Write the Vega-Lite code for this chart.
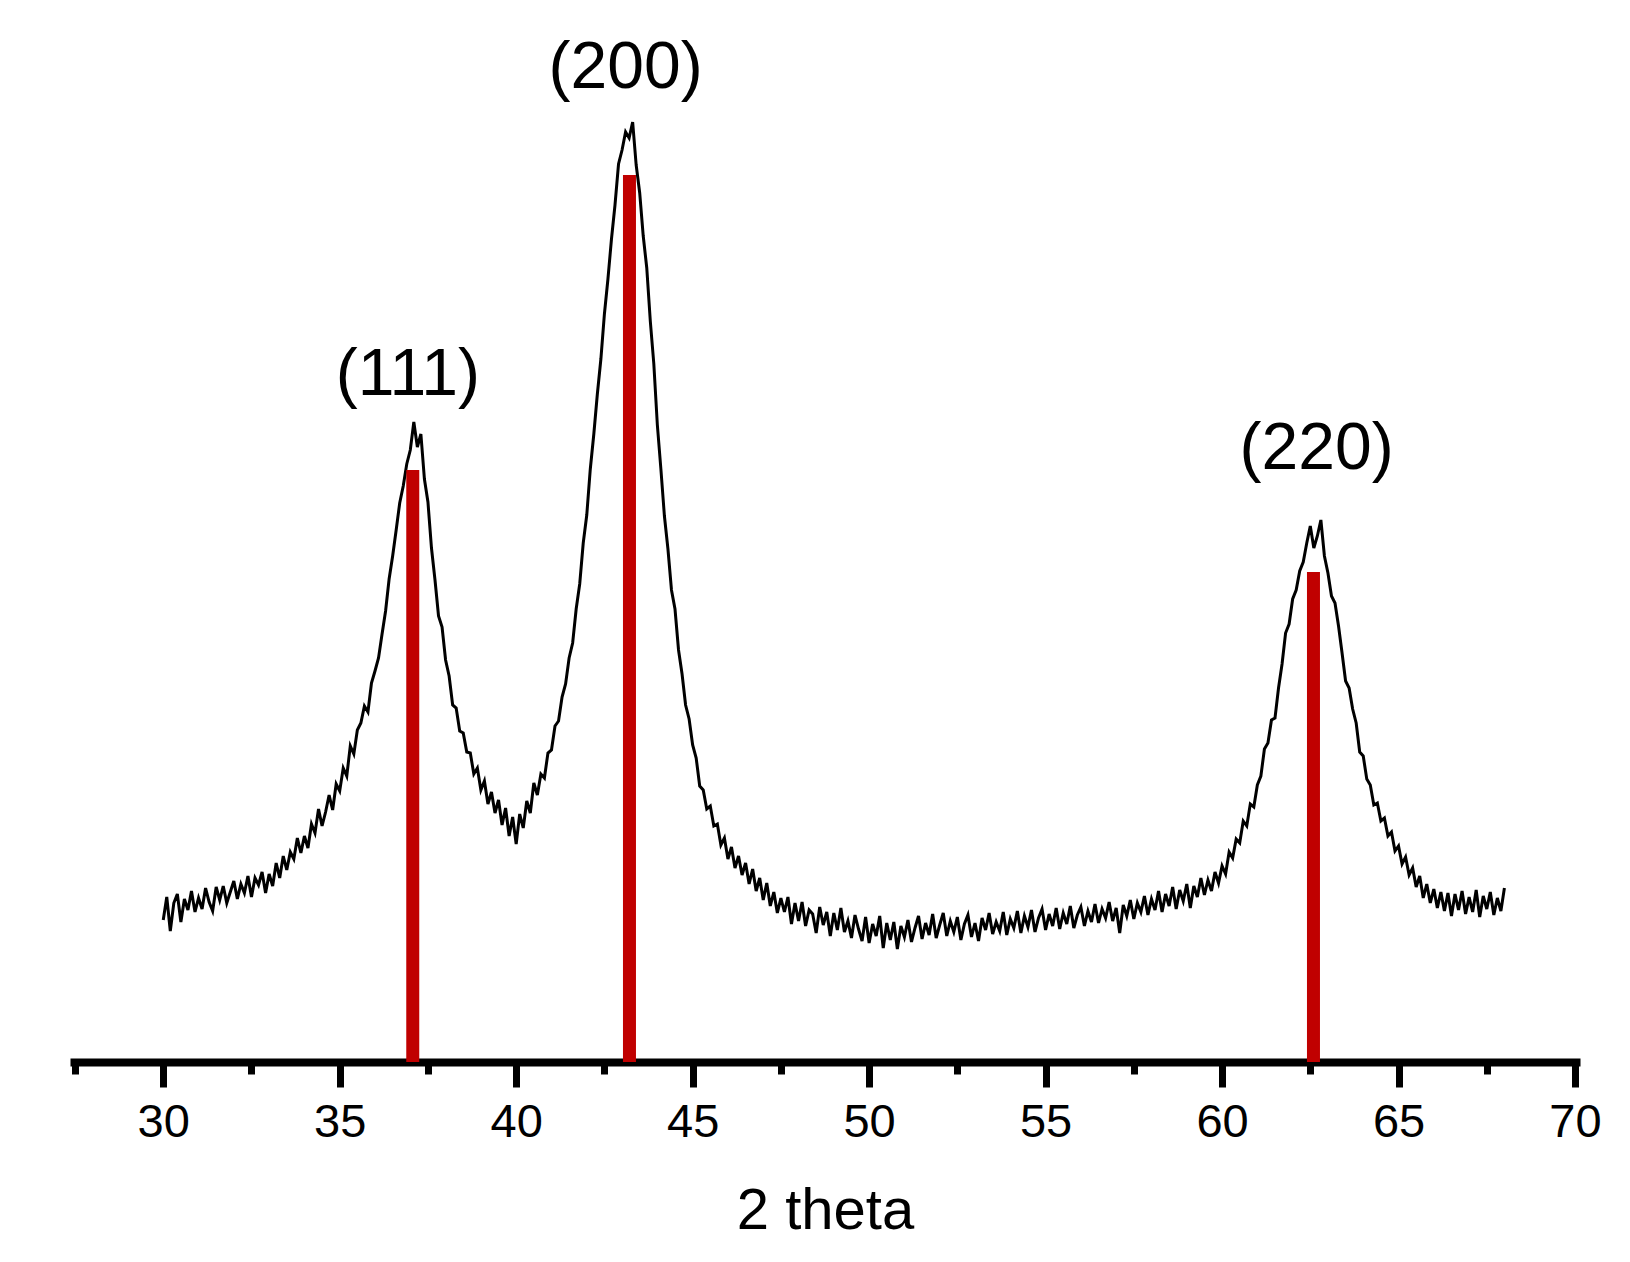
{
  "$schema": "https://vega.github.io/schema/vega-lite/v6.json",
  "width": 1510,
  "height": 1062,
  "autosize": "none",
  "padding": {"left": 70, "top": 0, "right": 50, "bottom": 200},
  "background": "white",
  "config": {
    "view": {"stroke": null},
    "font": "Liberation Sans"
  },
  "layer": [
    {
      "data": {
        "values": [
          {"two_theta": 30.0, "intensity": 14.2}, {"two_theta": 30.1, "intensity": 16.5}, {"two_theta": 30.2, "intensity": 13.1}, {"two_theta": 30.3, "intensity": 15.9},
          {"two_theta": 30.4, "intensity": 16.8}, {"two_theta": 30.5, "intensity": 14.0}, {"two_theta": 30.6, "intensity": 16.3}, {"two_theta": 30.7, "intensity": 15.2},
          {"two_theta": 30.8, "intensity": 17.1}, {"two_theta": 30.9, "intensity": 15.0}, {"two_theta": 31.0, "intensity": 16.4}, {"two_theta": 31.1, "intensity": 15.3},
          {"two_theta": 31.2, "intensity": 17.4}, {"two_theta": 31.3, "intensity": 16.0}, {"two_theta": 31.4, "intensity": 15.1}, {"two_theta": 31.5, "intensity": 17.5},
          {"two_theta": 31.6, "intensity": 16.2}, {"two_theta": 31.7, "intensity": 17.6}, {"two_theta": 31.8, "intensity": 15.9}, {"two_theta": 31.9, "intensity": 17.0},
          {"two_theta": 32.0, "intensity": 18.1}, {"two_theta": 32.1, "intensity": 16.3}, {"two_theta": 32.2, "intensity": 17.8}, {"two_theta": 32.3, "intensity": 16.9},
          {"two_theta": 32.4, "intensity": 18.6}, {"two_theta": 32.5, "intensity": 16.5}, {"two_theta": 32.6, "intensity": 18.4}, {"two_theta": 32.7, "intensity": 17.7},
          {"two_theta": 32.8, "intensity": 19.0}, {"two_theta": 32.9, "intensity": 16.9}, {"two_theta": 33.0, "intensity": 18.8}, {"two_theta": 33.1, "intensity": 17.6},
          {"two_theta": 33.2, "intensity": 19.9}, {"two_theta": 33.3, "intensity": 18.4}, {"two_theta": 33.4, "intensity": 20.6}, {"two_theta": 33.5, "intensity": 19.2},
          {"two_theta": 33.6, "intensity": 21.0}, {"two_theta": 33.7, "intensity": 20.3}, {"two_theta": 33.8, "intensity": 22.4}, {"two_theta": 33.9, "intensity": 20.9},
          {"two_theta": 34.0, "intensity": 22.6}, {"two_theta": 34.1, "intensity": 21.4}, {"two_theta": 34.2, "intensity": 23.8}, {"two_theta": 34.3, "intensity": 22.9},
          {"two_theta": 34.4, "intensity": 25.3}, {"two_theta": 34.5, "intensity": 23.6}, {"two_theta": 34.6, "intensity": 25.0}, {"two_theta": 34.7, "intensity": 26.7},
          {"two_theta": 34.8, "intensity": 25.2}, {"two_theta": 34.9, "intensity": 27.8}, {"two_theta": 35.0, "intensity": 27.1}, {"two_theta": 35.1, "intensity": 29.4},
          {"two_theta": 35.2, "intensity": 28.6}, {"two_theta": 35.3, "intensity": 31.6}, {"two_theta": 35.4, "intensity": 30.8}, {"two_theta": 35.5, "intensity": 33.2},
          {"two_theta": 35.6, "intensity": 33.9}, {"two_theta": 35.7, "intensity": 35.6}, {"two_theta": 35.8, "intensity": 35.0}, {"two_theta": 35.9, "intensity": 37.9},
          {"two_theta": 36.0, "intensity": 39.1}, {"two_theta": 36.1, "intensity": 40.4}, {"two_theta": 36.2, "intensity": 42.8}, {"two_theta": 36.3, "intensity": 45.1},
          {"two_theta": 36.4, "intensity": 48.3}, {"two_theta": 36.5, "intensity": 50.6}, {"two_theta": 36.6, "intensity": 53.2}, {"two_theta": 36.7, "intensity": 55.9},
          {"two_theta": 36.8, "intensity": 57.6}, {"two_theta": 36.9, "intensity": 59.8}, {"two_theta": 37.0, "intensity": 61.2}, {"two_theta": 37.1, "intensity": 64.0},
          {"two_theta": 37.2, "intensity": 61.5}, {"two_theta": 37.3, "intensity": 62.8}, {"two_theta": 37.4, "intensity": 58.3}, {"two_theta": 37.5, "intensity": 56.0},
          {"two_theta": 37.6, "intensity": 51.4}, {"two_theta": 37.7, "intensity": 48.2}, {"two_theta": 37.8, "intensity": 44.6}, {"two_theta": 37.9, "intensity": 43.5},
          {"two_theta": 38.0, "intensity": 40.2}, {"two_theta": 38.1, "intensity": 38.6}, {"two_theta": 38.2, "intensity": 35.7}, {"two_theta": 38.3, "intensity": 35.4},
          {"two_theta": 38.4, "intensity": 33.1}, {"two_theta": 38.5, "intensity": 32.9}, {"two_theta": 38.6, "intensity": 31.0}, {"two_theta": 38.7, "intensity": 30.9},
          {"two_theta": 38.8, "intensity": 28.8}, {"two_theta": 38.9, "intensity": 29.4}, {"two_theta": 39.0, "intensity": 27.2}, {"two_theta": 39.1, "intensity": 28.1},
          {"two_theta": 39.2, "intensity": 25.8}, {"two_theta": 39.3, "intensity": 27.0}, {"two_theta": 39.4, "intensity": 24.9}, {"two_theta": 39.5, "intensity": 26.2},
          {"two_theta": 39.6, "intensity": 23.7}, {"two_theta": 39.7, "intensity": 25.4}, {"two_theta": 39.8, "intensity": 22.6}, {"two_theta": 39.9, "intensity": 24.5},
          {"two_theta": 40.0, "intensity": 21.8}, {"two_theta": 40.1, "intensity": 24.8}, {"two_theta": 40.2, "intensity": 23.4}, {"two_theta": 40.3, "intensity": 26.1},
          {"two_theta": 40.4, "intensity": 24.9}, {"two_theta": 40.5, "intensity": 27.9}, {"two_theta": 40.6, "intensity": 26.7}, {"two_theta": 40.7, "intensity": 28.8},
          {"two_theta": 40.8, "intensity": 28.4}, {"two_theta": 40.9, "intensity": 30.9}, {"two_theta": 41.0, "intensity": 31.2}, {"two_theta": 41.1, "intensity": 33.6},
          {"two_theta": 41.2, "intensity": 34.1}, {"two_theta": 41.3, "intensity": 36.5}, {"two_theta": 41.4, "intensity": 37.8}, {"two_theta": 41.5, "intensity": 40.4},
          {"two_theta": 41.6, "intensity": 41.9}, {"two_theta": 41.7, "intensity": 45.3}, {"two_theta": 41.8, "intensity": 47.8}, {"two_theta": 41.9, "intensity": 51.9},
          {"two_theta": 42.0, "intensity": 54.7}, {"two_theta": 42.1, "intensity": 59.3}, {"two_theta": 42.2, "intensity": 62.8}, {"two_theta": 42.3, "intensity": 66.8},
          {"two_theta": 42.4, "intensity": 70.3}, {"two_theta": 42.5, "intensity": 74.8}, {"two_theta": 42.6, "intensity": 78.3}, {"two_theta": 42.7, "intensity": 82.3},
          {"two_theta": 42.8, "intensity": 85.7}, {"two_theta": 42.9, "intensity": 89.8}, {"two_theta": 43.0, "intensity": 91.2}, {"two_theta": 43.1, "intensity": 93.0},
          {"two_theta": 43.2, "intensity": 92.4}, {"two_theta": 43.3, "intensity": 94.0}, {"two_theta": 43.4, "intensity": 89.7}, {"two_theta": 43.5, "intensity": 86.9},
          {"two_theta": 43.6, "intensity": 82.6}, {"two_theta": 43.7, "intensity": 79.4}, {"two_theta": 43.8, "intensity": 74.1}, {"two_theta": 43.9, "intensity": 69.8},
          {"two_theta": 44.0, "intensity": 63.7}, {"two_theta": 44.1, "intensity": 59.3}, {"two_theta": 44.2, "intensity": 54.6}, {"two_theta": 44.3, "intensity": 51.3},
          {"two_theta": 44.4, "intensity": 47.2}, {"two_theta": 44.5, "intensity": 45.3}, {"two_theta": 44.6, "intensity": 41.2}, {"two_theta": 44.7, "intensity": 38.8},
          {"two_theta": 44.8, "intensity": 35.7}, {"two_theta": 44.9, "intensity": 34.3}, {"two_theta": 45.0, "intensity": 31.7}, {"two_theta": 45.1, "intensity": 30.4},
          {"two_theta": 45.2, "intensity": 27.6}, {"two_theta": 45.3, "intensity": 27.2}, {"two_theta": 45.4, "intensity": 25.3}, {"two_theta": 45.5, "intensity": 25.6},
          {"two_theta": 45.6, "intensity": 23.6}, {"two_theta": 45.7, "intensity": 23.8}, {"two_theta": 45.8, "intensity": 21.7}, {"two_theta": 45.9, "intensity": 22.4},
          {"two_theta": 46.0, "intensity": 20.3}, {"two_theta": 46.1, "intensity": 21.5}, {"two_theta": 46.2, "intensity": 19.4}, {"two_theta": 46.3, "intensity": 20.6},
          {"two_theta": 46.4, "intensity": 18.7}, {"two_theta": 46.5, "intensity": 19.9}, {"two_theta": 46.6, "intensity": 17.8}, {"two_theta": 46.7, "intensity": 19.3},
          {"two_theta": 46.8, "intensity": 17.1}, {"two_theta": 46.9, "intensity": 18.4}, {"two_theta": 47.0, "intensity": 16.2}, {"two_theta": 47.1, "intensity": 17.9},
          {"two_theta": 47.2, "intensity": 15.6}, {"two_theta": 47.3, "intensity": 17.0}, {"two_theta": 47.4, "intensity": 14.9}, {"two_theta": 47.5, "intensity": 16.4},
          {"two_theta": 47.6, "intensity": 15.0}, {"two_theta": 47.7, "intensity": 16.5}, {"two_theta": 47.8, "intensity": 13.8}, {"two_theta": 47.9, "intensity": 15.9},
          {"two_theta": 48.0, "intensity": 14.1}, {"two_theta": 48.1, "intensity": 16.0}, {"two_theta": 48.2, "intensity": 13.6}, {"two_theta": 48.3, "intensity": 15.2},
          {"two_theta": 48.4, "intensity": 14.8}, {"two_theta": 48.5, "intensity": 12.9}, {"two_theta": 48.6, "intensity": 15.5}, {"two_theta": 48.7, "intensity": 13.7},
          {"two_theta": 48.8, "intensity": 15.0}, {"two_theta": 48.9, "intensity": 12.6}, {"two_theta": 49.0, "intensity": 14.9}, {"two_theta": 49.1, "intensity": 13.2},
          {"two_theta": 49.2, "intensity": 15.4}, {"two_theta": 49.3, "intensity": 13.0}, {"two_theta": 49.4, "intensity": 14.1}, {"two_theta": 49.5, "intensity": 12.4},
          {"two_theta": 49.6, "intensity": 14.7}, {"two_theta": 49.7, "intensity": 13.3}, {"two_theta": 49.8, "intensity": 12.1}, {"two_theta": 49.9, "intensity": 14.5},
          {"two_theta": 50.0, "intensity": 11.9}, {"two_theta": 50.1, "intensity": 13.8}, {"two_theta": 50.2, "intensity": 12.6}, {"two_theta": 50.3, "intensity": 14.6},
          {"two_theta": 50.4, "intensity": 11.4}, {"two_theta": 50.5, "intensity": 13.9}, {"two_theta": 50.6, "intensity": 12.2}, {"two_theta": 50.7, "intensity": 14.0},
          {"two_theta": 50.8, "intensity": 11.3}, {"two_theta": 50.9, "intensity": 13.6}, {"two_theta": 51.0, "intensity": 12.5}, {"two_theta": 51.1, "intensity": 14.2},
          {"two_theta": 51.2, "intensity": 12.0}, {"two_theta": 51.3, "intensity": 13.4}, {"two_theta": 51.4, "intensity": 14.6}, {"two_theta": 51.5, "intensity": 12.3},
          {"two_theta": 51.6, "intensity": 13.9}, {"two_theta": 51.7, "intensity": 12.7}, {"two_theta": 51.8, "intensity": 14.8}, {"two_theta": 51.9, "intensity": 12.4},
          {"two_theta": 52.0, "intensity": 13.7}, {"two_theta": 52.1, "intensity": 14.9}, {"two_theta": 52.2, "intensity": 12.6}, {"two_theta": 52.3, "intensity": 14.1},
          {"two_theta": 52.4, "intensity": 13.0}, {"two_theta": 52.5, "intensity": 14.5}, {"two_theta": 52.6, "intensity": 12.2}, {"two_theta": 52.7, "intensity": 13.8},
          {"two_theta": 52.8, "intensity": 14.7}, {"two_theta": 52.9, "intensity": 12.5}, {"two_theta": 53.0, "intensity": 13.9}, {"two_theta": 53.1, "intensity": 12.1},
          {"two_theta": 53.2, "intensity": 14.4}, {"two_theta": 53.3, "intensity": 13.2}, {"two_theta": 53.4, "intensity": 14.9}, {"two_theta": 53.5, "intensity": 12.8},
          {"two_theta": 53.6, "intensity": 14.0}, {"two_theta": 53.7, "intensity": 13.1}, {"two_theta": 53.8, "intensity": 15.0}, {"two_theta": 53.9, "intensity": 12.7},
          {"two_theta": 54.0, "intensity": 14.3}, {"two_theta": 54.1, "intensity": 13.4}, {"two_theta": 54.2, "intensity": 15.1}, {"two_theta": 54.3, "intensity": 12.9},
          {"two_theta": 54.4, "intensity": 14.6}, {"two_theta": 54.5, "intensity": 13.5}, {"two_theta": 54.6, "intensity": 15.2}, {"two_theta": 54.7, "intensity": 13.0},
          {"two_theta": 54.8, "intensity": 14.4}, {"two_theta": 54.9, "intensity": 15.3}, {"two_theta": 55.0, "intensity": 13.2}, {"two_theta": 55.1, "intensity": 14.8},
          {"two_theta": 55.2, "intensity": 13.6}, {"two_theta": 55.3, "intensity": 15.4}, {"two_theta": 55.4, "intensity": 13.3}, {"two_theta": 55.5, "intensity": 14.9},
          {"two_theta": 55.6, "intensity": 13.8}, {"two_theta": 55.7, "intensity": 15.6}, {"two_theta": 55.8, "intensity": 13.4}, {"two_theta": 55.9, "intensity": 14.7},
          {"two_theta": 56.0, "intensity": 15.5}, {"two_theta": 56.1, "intensity": 13.6}, {"two_theta": 56.2, "intensity": 15.1}, {"two_theta": 56.3, "intensity": 14.0},
          {"two_theta": 56.4, "intensity": 15.8}, {"two_theta": 56.5, "intensity": 13.9}, {"two_theta": 56.6, "intensity": 15.3}, {"two_theta": 56.7, "intensity": 14.4},
          {"two_theta": 56.8, "intensity": 16.0}, {"two_theta": 56.9, "intensity": 14.1}, {"two_theta": 57.0, "intensity": 15.4}, {"two_theta": 57.1, "intensity": 12.9},
          {"two_theta": 57.2, "intensity": 15.7}, {"two_theta": 57.3, "intensity": 14.6}, {"two_theta": 57.4, "intensity": 16.2}, {"two_theta": 57.5, "intensity": 14.3},
          {"two_theta": 57.6, "intensity": 15.9}, {"two_theta": 57.7, "intensity": 15.0}, {"two_theta": 57.8, "intensity": 16.6}, {"two_theta": 57.9, "intensity": 14.7},
          {"two_theta": 58.0, "intensity": 16.3}, {"two_theta": 58.1, "intensity": 15.2}, {"two_theta": 58.2, "intensity": 17.1}, {"two_theta": 58.3, "intensity": 15.0},
          {"two_theta": 58.4, "intensity": 16.8}, {"two_theta": 58.5, "intensity": 15.6}, {"two_theta": 58.6, "intensity": 17.5}, {"two_theta": 58.7, "intensity": 15.3},
          {"two_theta": 58.8, "intensity": 17.2}, {"two_theta": 58.9, "intensity": 16.1}, {"two_theta": 59.0, "intensity": 17.8}, {"two_theta": 59.1, "intensity": 15.4},
          {"two_theta": 59.2, "intensity": 17.6}, {"two_theta": 59.3, "intensity": 16.5}, {"two_theta": 59.4, "intensity": 18.4}, {"two_theta": 59.5, "intensity": 16.7},
          {"two_theta": 59.6, "intensity": 18.2}, {"two_theta": 59.7, "intensity": 17.1}, {"two_theta": 59.8, "intensity": 19.0}, {"two_theta": 59.9, "intensity": 17.9},
          {"two_theta": 60.0, "intensity": 19.6}, {"two_theta": 60.1, "intensity": 18.8}, {"two_theta": 60.2, "intensity": 21.0}, {"two_theta": 60.3, "intensity": 20.4},
          {"two_theta": 60.4, "intensity": 22.3}, {"two_theta": 60.5, "intensity": 21.9}, {"two_theta": 60.6, "intensity": 24.1}, {"two_theta": 60.7, "intensity": 23.6},
          {"two_theta": 60.8, "intensity": 25.8}, {"two_theta": 60.9, "intensity": 25.5}, {"two_theta": 61.0, "intensity": 27.7}, {"two_theta": 61.1, "intensity": 28.6},
          {"two_theta": 61.2, "intensity": 31.3}, {"two_theta": 61.3, "intensity": 31.9}, {"two_theta": 61.4, "intensity": 34.2}, {"two_theta": 61.5, "intensity": 34.4},
          {"two_theta": 61.6, "intensity": 37.4}, {"two_theta": 61.7, "intensity": 39.8}, {"two_theta": 61.8, "intensity": 42.9}, {"two_theta": 61.9, "intensity": 43.8},
          {"two_theta": 62.0, "intensity": 46.3}, {"two_theta": 62.1, "intensity": 47.2}, {"two_theta": 62.2, "intensity": 49.1}, {"two_theta": 62.3, "intensity": 50.0},
          {"two_theta": 62.4, "intensity": 51.9}, {"two_theta": 62.5, "intensity": 53.6}, {"two_theta": 62.6, "intensity": 51.4}, {"two_theta": 62.7, "intensity": 52.6},
          {"two_theta": 62.8, "intensity": 54.2}, {"two_theta": 62.9, "intensity": 50.6}, {"two_theta": 63.0, "intensity": 48.9}, {"two_theta": 63.1, "intensity": 46.6},
          {"two_theta": 63.2, "intensity": 45.9}, {"two_theta": 63.3, "intensity": 43.6}, {"two_theta": 63.4, "intensity": 40.9}, {"two_theta": 63.5, "intensity": 38.1},
          {"two_theta": 63.6, "intensity": 37.4}, {"two_theta": 63.7, "intensity": 35.3}, {"two_theta": 63.8, "intensity": 33.9}, {"two_theta": 63.9, "intensity": 31.0},
          {"two_theta": 64.0, "intensity": 30.6}, {"two_theta": 64.1, "intensity": 28.3}, {"two_theta": 64.2, "intensity": 27.7}, {"two_theta": 64.3, "intensity": 25.7},
          {"two_theta": 64.4, "intensity": 25.9}, {"two_theta": 64.5, "intensity": 24.1}, {"two_theta": 64.6, "intensity": 24.4}, {"two_theta": 64.7, "intensity": 22.6},
          {"two_theta": 64.8, "intensity": 23.0}, {"two_theta": 64.9, "intensity": 21.1}, {"two_theta": 65.0, "intensity": 21.6}, {"two_theta": 65.1, "intensity": 19.8},
          {"two_theta": 65.2, "intensity": 20.5}, {"two_theta": 65.3, "intensity": 18.7}, {"two_theta": 65.4, "intensity": 19.4}, {"two_theta": 65.5, "intensity": 17.5},
          {"two_theta": 65.6, "intensity": 18.6}, {"two_theta": 65.7, "intensity": 16.4}, {"two_theta": 65.8, "intensity": 17.8}, {"two_theta": 65.9, "intensity": 15.9},
          {"two_theta": 66.0, "intensity": 17.3}, {"two_theta": 66.1, "intensity": 15.4}, {"two_theta": 66.2, "intensity": 17.0}, {"two_theta": 66.3, "intensity": 15.1},
          {"two_theta": 66.4, "intensity": 16.9}, {"two_theta": 66.5, "intensity": 14.6}, {"two_theta": 66.6, "intensity": 16.8}, {"two_theta": 66.7, "intensity": 15.2},
          {"two_theta": 66.8, "intensity": 17.1}, {"two_theta": 66.9, "intensity": 14.8}, {"two_theta": 67.0, "intensity": 16.5}, {"two_theta": 67.1, "intensity": 15.0},
          {"two_theta": 67.2, "intensity": 17.2}, {"two_theta": 67.3, "intensity": 14.5}, {"two_theta": 67.4, "intensity": 16.6}, {"two_theta": 67.5, "intensity": 15.3},
          {"two_theta": 67.6, "intensity": 17.0}, {"two_theta": 67.7, "intensity": 14.7}, {"two_theta": 67.8, "intensity": 16.4}, {"two_theta": 67.9, "intensity": 15.1},
          {"two_theta": 68.0, "intensity": 17.4}
        ]
      },
      "mark": {"type": "line", "color": "black", "strokeWidth": 3, "interpolate": "linear"},
      "encoding": {
        "x": {
          "field": "two_theta",
          "type": "quantitative",
          "scale": {"domain": [27.5, 70], "nice": false, "zero": false},
          "axis": {
            "title": "2 theta",
            "titleFont": "Liberation Sans",
            "titleFontSize": 58,
            "titleFontWeight": "normal",
            "titleColor": "black",
            "titlePadding": 37,
            "values": [27.5, 30, 32.5, 35, 37.5, 40, 42.5, 45, 47.5, 50, 52.5, 55, 57.5, 60, 62.5, 65, 67.5, 70],
            "domainColor": "black",
            "domainWidth": 8,
            "tickColor": "black",
            "tickWidth": 7,
            "tickSize": {"condition": {"test": "datum.value % 5 === 0", "value": 25}, "value": 12},
            "labelExpr": "datum.value % 5 === 0 ? format(datum.value, 'd') : ''",
            "labelFont": "Liberation Sans",
            "labelFontSize": 47,
            "labelColor": "black",
            "labelPadding": 12,
            "labelOverlap": false,
            "labelFlush": false,
            "grid": false
          }
        },
        "y": {
          "field": "intensity",
          "type": "quantitative",
          "scale": {"domain": [0, 106.2], "nice": false},
          "axis": null
        }
      }
    },
    {
      "data": {
        "values": [
          {"two_theta": 37.07, "top": 59.2},
          {"two_theta": 43.21, "top": 88.7},
          {"two_theta": 62.59, "top": 49.0}
        ]
      },
      "mark": {"type": "bar", "color": "#c00000", "width": 13},
      "encoding": {
        "x": {"field": "two_theta", "type": "quantitative"},
        "y": {"field": "top", "type": "quantitative"}
      }
    },
    {
      "data": {
        "values": [
          {"two_theta": 36.93, "height": 66.7, "plane": "(111)"},
          {"two_theta": 43.1, "height": 97.4, "plane": "(200)"},
          {"two_theta": 62.68, "height": 59.3, "plane": "(220)"}
        ]
      },
      "mark": {"type": "text", "font": "Liberation Sans", "fontSize": 66, "color": "black", "align": "center", "baseline": "alphabetic"},
      "encoding": {
        "x": {"field": "two_theta", "type": "quantitative"},
        "y": {"field": "height", "type": "quantitative"},
        "text": {"field": "plane", "type": "nominal"}
      }
    }
  ]
}
